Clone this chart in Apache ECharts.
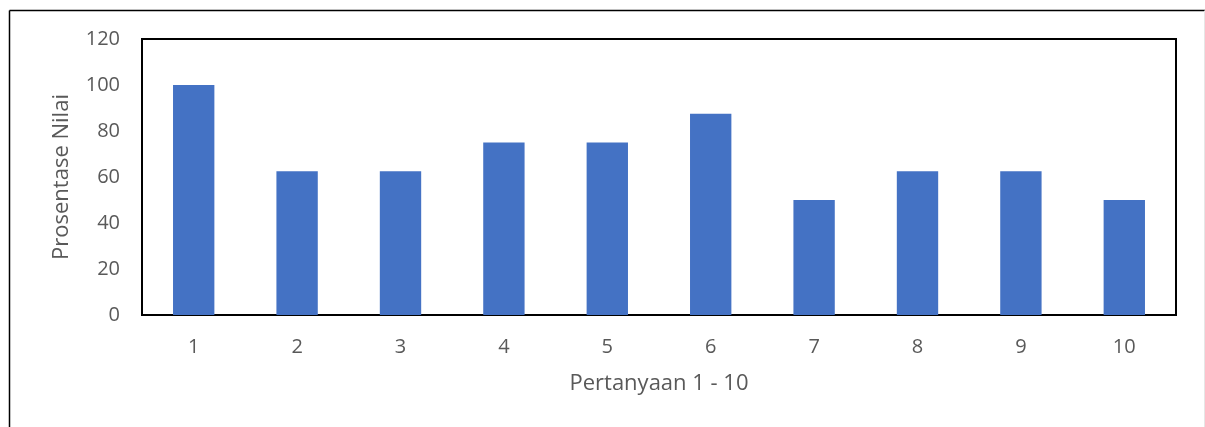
<!DOCTYPE html>
<html>
<head>
<meta charset="utf-8">
<script src="https://cdn.jsdelivr.net/npm/echarts@6/dist/echarts.min.js"></script>
<style>
  html, body { margin: 0; padding: 0; background: #fff; }
  #chart { width: 1205px; height: 427px; }
</style>
</head>
<body>
<div id="chart"></div>
<script>
// Question numbers and score percentage per question
const categories = ['1', '2', '3', '4', '5', '6', '7', '8', '9', '10'];
const scores = [100, 62.5, 62.5, 75, 75, 87.5, 50, 62.5, 62.5, 50];
const yTicks = { min: 0, max: 120, interval: 20 };

const FONT = '"Open Sans", "Liberation Sans", sans-serif';
const TEXT = '#595959';

const chart = echarts.init(document.getElementById('chart'), null, { renderer: 'canvas' });
chart.setOption({
  animation: false,
  backgroundColor: '#fff',
  graphic: [
    // outer frame of the chart area
    { type: 'line', shape: { x1: 9.5, y1: 10.5, x2: 1205, y2: 10.5 }, style: { stroke: '#000', lineWidth: 1.5 } },
    { type: 'line', shape: { x1: 9.5, y1: 10.5, x2: 9.5, y2: 427 }, style: { stroke: '#000', lineWidth: 1.5 } },
    { type: 'line', shape: { x1: 1204.5, y1: 10.5, x2: 1204.5, y2: 427 }, style: { stroke: '#e6e6e6', lineWidth: 1 } }
  ],
  grid: {
    left: 142, right: 29, top: 39, bottom: 112,
    show: true, borderColor: '#000', borderWidth: 2, backgroundColor: 'transparent'
  },
  xAxis: {
    type: 'category',
    data: categories,
    name: 'Pertanyaan 1 - 10',
    nameLocation: 'middle',
    nameGap: 58,
    nameTextStyle: { color: TEXT, fontSize: 22, fontFamily: FONT },
    axisLine: { show: false },
    axisTick: { show: false },
    axisLabel: { color: TEXT, fontSize: 20, fontFamily: FONT, margin: 22 }
  },
  yAxis: {
    type: 'value',
    min: yTicks.min, max: yTicks.max, interval: yTicks.interval,
    name: 'Prosentase Nilai',
    nameLocation: 'middle',
    nameGap: 69,
    nameTextStyle: { color: TEXT, fontSize: 22, fontFamily: FONT },
    axisLine: { show: false },
    axisTick: { show: false },
    splitLine: { show: false },
    axisLabel: { color: TEXT, fontSize: 20, fontFamily: FONT, margin: 22 }
  },
  series: [{
    type: 'bar',
    data: scores,
    barWidth: '40%',
    itemStyle: { color: '#4472C4' }
  }]
});
</script>
</body>
</html>
